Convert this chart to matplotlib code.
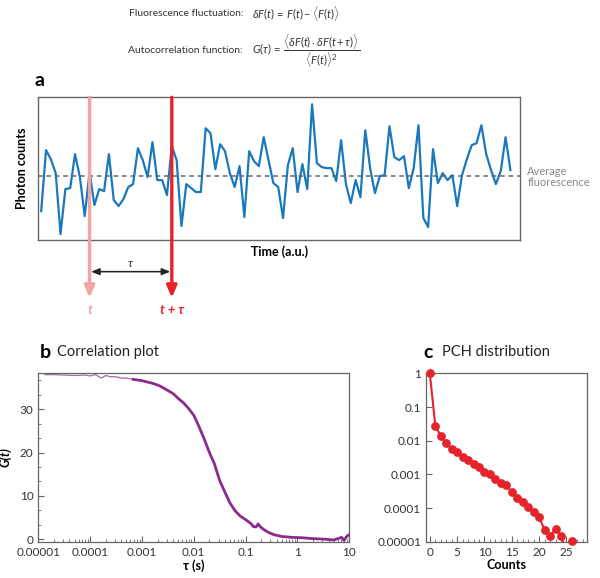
import matplotlib
matplotlib.use("Agg")
import matplotlib.pyplot as plt
from matplotlib.ticker import FixedLocator, NullFormatter, LogLocator, MultipleLocator

plt.rcParams['font.family'] = ['Lato', 'DejaVu Sans']
plt.rcParams['mathtext.fontset'] = 'custom'
plt.rcParams['mathtext.rm'] = 'Lato'
plt.rcParams['mathtext.it'] = 'Lato:italic'
plt.rcParams['mathtext.bf'] = 'Lato:bold'

# panel a: photon count trace
counts = [29, 90, 81, 67, 6, 51, 52, 86, 63, 24,
          68, 35, 51, 49, 86, 40, 34, 41, 53, 56,
          92, 80, 63, 98, 60, 60, 45, 94, 80, 14,
          56, 52, 48, 48, 112, 107, 71, 96, 89, 67,
          53, 74, 23, 89, 79, 74, 103, 80, 57, 53,
          22, 75, 92, 48, 76, 51, 136, 77, 73, 72,
          72, 59, 100, 56, 37, 60, 43, 110, 72, 47,
          64, 65, 114, 83, 80, 84, 52, 72, 115, 22,
          13, 91, 57, 67, 60, 65, 34, 65, 81, 95,
          97, 115, 86, 70, 56, 69, 103, 70]
mean_count = 64
t_idx = 10
tt_idx = 27

# panel b: correlation curve
tau = [1.35e-5, 2.0e-5, 3.2e-5, 5.0e-5, 7.9e-5, 1.0e-4, 1.26e-4, 1.66e-4,
       2.0e-4, 2.5e-4, 3.2e-4, 4.0e-4, 5.0e-4, 6.8e-4,
       1.0e-3, 1.26e-3, 1.6e-3, 2.2e-3, 3.2e-3, 4.0e-3, 5.0e-3, 6.3e-3,
       7.9e-3, 0.010, 0.0126, 0.0158, 0.020, 0.025, 0.0316, 0.040, 0.050,
       0.063, 0.079, 0.10, 0.126, 0.141, 0.158, 0.174, 0.19, 0.224, 0.28,
       0.355, 0.5, 0.79, 1.26, 2.0, 3.2, 5.0, 7.1, 7.9, 8.9, 9.5]
G = [38.0, 38.0, 37.9, 37.8, 37.9, 37.7, 38.0, 37.2,
     37.8, 37.5, 37.5, 37.2, 37.2, 36.9,
     36.6, 36.3, 36.0, 35.4, 34.3, 33.6, 32.5, 31.5,
     30.2, 28.6, 26.0, 23.2, 20.0, 17.4, 13.5, 10.8, 8.3,
     6.5, 5.3, 4.5, 3.6, 2.9, 2.8, 3.5, 2.9, 2.2, 1.5,
     1.0, 0.6, 0.4, 0.3, 0.1, 0.0, -0.2, 0.4, -0.3, 0.6, 0.9]
n_thin = 14

# panel c: PCH
pch_counts = list(range(27))
pch_prob = [1.0, 0.028, 0.0138, 0.0083, 0.0058, 0.0045, 0.0033, 0.0026,
            0.0021, 0.0016, 0.0012, 0.00102, 0.00075, 0.00056, 0.00048,
            0.00029, 0.0002, 0.000155, 0.000107, 0.000074, 0.000053,
            0.0000224, 0.0000148, 0.0000234, 0.0000151, 0.000005, 0.0000105]

spine_col = '#666666'
txt_col = '#333333'
blue = '#1a78bd'
pink = '#f4a3a3'
red = '#e5232b'
purple = '#8a2b8d'

fig = plt.figure(figsize=(6, 5.78), dpi=100)

# equations
fig.text(0.405, 0.9775, "Fluorescence fluctuation:", fontsize=7.5, color=txt_col,
         va='center', ha='right')
fig.text(0.42, 0.9775, r"$\delta F(t)\,=\,F(t) - \langle F(t)\rangle$", fontsize=8,
         color=txt_col, va='center')
fig.text(0.405, 0.9118, "Autocorrelation function:", fontsize=7.5, color=txt_col,
         va='center', ha='right')
fig.text(0.42, 0.9118, r"$G(\tau)\,=\,\dfrac{\langle\delta F(t)\cdot\delta F(t+\tau)\rangle}{\langle F(t)\rangle^2}$",
         fontsize=8, color=txt_col, va='center')
fig.text(0.058, 0.86, "a", fontsize=14, fontweight='bold', va='center')

# ---- panel a
ax = fig.add_axes([0.0638, 0.5848, 0.803, 0.2469])
ax.plot(range(len(counts)), counts, color=blue, lw=1.6)
ax.axhline(mean_count, color='#666666', lw=1.1, ls=(0, (3, 2.5)))
ax.set_xlim(-0.6, 99)
ax.set_ylim(0, 143)
ax.set_xticks([])
ax.set_yticks([])
for s in ax.spines.values():
    s.set_color(spine_col)
    s.set_linewidth(1.0)
ax.text(0.5, -0.085, "Time (a.u.)", transform=ax.transAxes, ha='center', va='center',
        fontsize=9, fontweight='bold')
ax.text(-0.034, 0.5, "Photon counts", transform=ax.transAxes, rotation=90,
        ha='center', va='center', fontsize=9, fontweight='bold')
ax.text(1.015, 0.44, "Average\nfluorescence", transform=ax.transAxes, ha='left',
        va='center', fontsize=8, color='#8a8a8a', linespacing=0.95)

tr = ax.get_xaxis_transform()
ax.annotate("", xy=(t_idx, -0.405), xytext=(t_idx, 1.0), xycoords=tr, textcoords=tr,
            arrowprops=dict(arrowstyle='-|>,head_length=0.7,head_width=0.3', color=pink,
                            lw=2.4, shrinkA=0, shrinkB=0), annotation_clip=False)
ax.annotate("", xy=(tt_idx, -0.405), xytext=(tt_idx, 1.0), xycoords=tr, textcoords=tr,
            arrowprops=dict(arrowstyle='-|>,head_length=0.7,head_width=0.3', color=red,
                            lw=2.4, shrinkA=0, shrinkB=0), annotation_clip=False)
ax.annotate("", xy=(t_idx + 0.3, -0.222), xytext=(tt_idx - 0.3, -0.222), xycoords=tr,
            textcoords=tr, annotation_clip=False,
            arrowprops=dict(arrowstyle='<|-|>,head_length=0.5,head_width=0.2', color='#222222',
                            lw=1.1, shrinkA=0, shrinkB=0))
ax.text((t_idx + tt_idx) / 2, -0.165, r"$\tau$", transform=tr, ha='center', va='center',
        fontsize=8.5, color='#333333')
ax.text(t_idx, -0.49, "t", transform=tr, ha='center',
        va='center', fontsize=9.5, color=pink, fontweight='bold', style='italic')
ax.text(tt_idx, -0.49, "t + τ", transform=tr, ha='center', va='center', fontsize=9.5,
        color=red, fontweight='bold', style='italic')

# ---- panel b
axb = fig.add_axes([0.0638, 0.0628, 0.5184, 0.2913])
axb.plot(tau[:n_thin], G[:n_thin], color='#a06aa8', lw=0.9)
axb.plot(tau[n_thin - 1:], G[n_thin - 1:], color=purple, lw=2.0)
axb.set_xscale('log')
axb.set_xlim(1e-5, 10)
axb.set_ylim(-0.6, 38.3)
xt = [1e-5, 1e-4, 1e-3, 1e-2, 1e-1, 1, 10]
axb.set_xticks(xt)
axb.set_xticklabels(["0.00001", "0.0001", "0.001", "0.01", "0.1", "1", "10"])
axb.xaxis.set_minor_locator(LogLocator(base=10, subs=[2, 3, 4, 5, 6, 7, 8, 9]))
axb.xaxis.set_minor_formatter(NullFormatter())
axb.set_yticks([0, 10, 20, 30])
axb.yaxis.set_minor_locator(MultipleLocator(10 / 3))
axb.set_xlabel("τ (s)", fontsize=9, fontweight='bold', labelpad=1)
axb.set_ylabel("G(t)", fontsize=9, fontweight='bold', style='italic', labelpad=6)
fig.text(0.066, 0.391, "b", fontsize=14, fontweight='bold', va='center')
fig.text(0.095, 0.391, "Correlation plot", fontsize=10.5, color='#222222', va='center')

# ---- panel c
axc = fig.add_axes([0.71, 0.0628, 0.2678, 0.2913])
axc.plot(pch_counts, pch_prob, color=red, lw=1.5)
vis_x = [c for c, p in zip(pch_counts, pch_prob) if p >= 1e-5]
vis_p = [p for p in pch_prob if p >= 1e-5]
axc.plot(vis_x, vis_p, 'o', color=red, ms=5.3, clip_on=False, zorder=5)
axc.set_yscale('log')
axc.set_ylim(1e-5, 1)
axc.set_xlim(-0.7, 28.7)
axc.yaxis.set_major_locator(FixedLocator([1e-5, 1e-4, 1e-3, 1e-2, 1e-1, 1]))
axc.set_yticklabels(["0.00001", "0.0001", "0.001", "0.01", "0.1", "1"])
axc.yaxis.set_minor_locator(FixedLocator([]))
axc.set_xticks([0, 5, 10, 15, 20, 25])
axc.xaxis.set_minor_locator(MultipleLocator(1))
axc.set_xlabel("Counts", fontsize=9, fontweight='bold', labelpad=1)
fig.text(0.705, 0.391, "c", fontsize=14, fontweight='bold', va='center')
fig.text(0.737, 0.391, "PCH distribution", fontsize=10.5, color='#222222', va='center')

for a in (axb, axc):
    for s in a.spines.values():
        s.set_color(spine_col)
        s.set_linewidth(0.9)
    a.tick_params(which='both', direction='in', colors=spine_col, labelcolor=txt_col,
                  labelsize=8.5)
    a.tick_params(which='major', length=4)
    a.tick_params(which='minor', length=2)

fig.savefig("out.png", dpi=100)
